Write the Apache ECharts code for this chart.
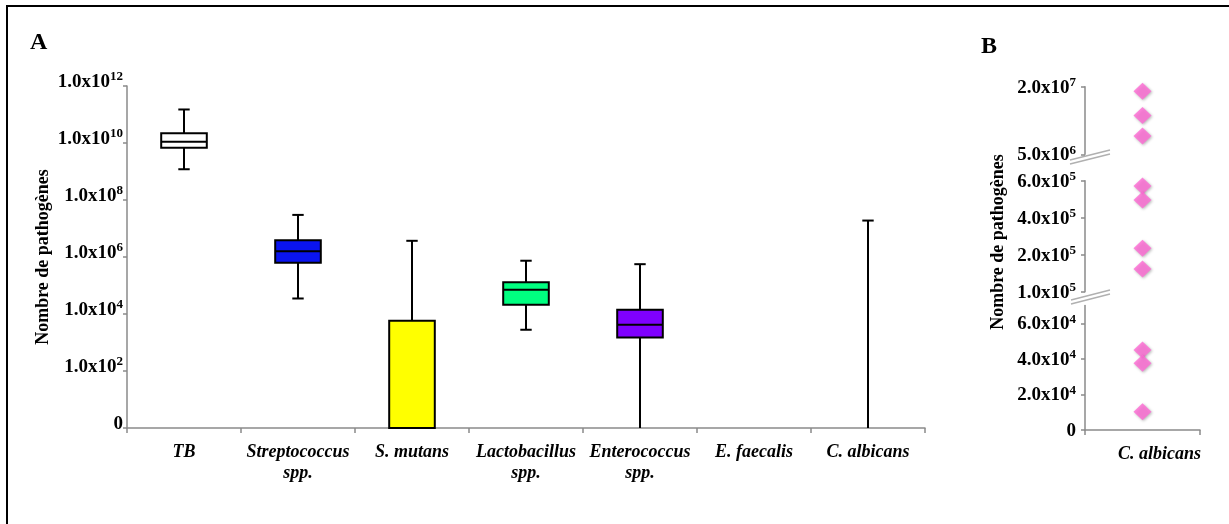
<!DOCTYPE html>
<html><head><meta charset="utf-8">
<script src="https://cdn.jsdelivr.net/npm/echarts@6/dist/echarts.min.js"></script>
<style>html,body{margin:0;padding:0;background:#fff}#c{width:1229px;height:524px}</style>
</head><body><div id="c"></div>
<script>
// ---------- Panel A data (counts) ----------
const categories = ['TB', 'Streptococcus\nspp.', 'S. mutans', 'Lactobacillus\nspp.', 'Enterococcus\nspp.', 'E. faecalis', 'C. albicans'];
const whiskerMin = [1.2e9, 3.5e4, 0, 2.8e3, 0, null, 0];
const boxQ1      = [6.8e9, 6.3e5, 0, 2.1e4, 1.5e3, null, null];
const boxMedian  = [1.1e10, 1.6e6, null, 7.1e4, 4.2e3, null, null];
const boxQ3      = [2.2e10, 3.9e6, 5.8e3, 1.3e5, 1.4e4, null, null];
const whiskerMax = [1.5e11, 3.0e7, 3.7e6, 7.4e5, 5.6e5, null, 1.9e7];
const boxColors  = ['#ffffff', '#0a14f0', '#ffff00', '#00ff80', '#7f00ff', null, null];
const aTickExponents = [0, 2, 4, 6, 8, 10, 12];

// ---------- Panel B data (C. albicans counts, three axis segments) ----------
const bCategory = ['C. albicans'];
const bLowPoints  = [4.5e4, 3.75e4, 1.03e4];
const bMidPoints  = [5.71e5, 4.96e5, 2.35e5, 1.23e5];
const bHighPoints = [1.9e7, 1.36e7, 9.06e6];
const bLowTicks  = [0, 2e4, 4e4, 6e4];
const bLowLabels = ['0', '2.0x10^4', '4.0x10^4', '6.0x10^4'];
const bMidTicks  = [0, 2e5, 4e5, 6e5];
const bMidLabels = ['1.0x10^5', '2.0x10^5', '4.0x10^5', '6.0x10^5'];
const bHighTicks  = [5e6, 2e7];
const bHighLabels = ['5.0x10^6', '2.0x10^7'];

const L = v => (v == null ? null : (v <= 0 ? 0 : Math.log10(v)));
const FONT = 'Liberation Serif';
const GREY = '#8a8a8a';

const rich = {
  a: {fontFamily: FONT, fontSize: 19, fontWeight: 'bold', color: '#000', lineHeight: 21, verticalAlign: 'bottom'},
  s: {fontFamily: FONT, fontSize: 13, fontWeight: 'bold', color: '#000', lineHeight: 13, verticalAlign: 'top'}
};
const sci = str => {
  const p = str.split('^');
  return p.length > 1 ? '{a|' + p[0] + '}{s|' + p[1] + '}' : '{a|' + p[0] + '}';
};
const labFrom = (ticks, labels) => v => {
  const k = ticks.findIndex(t => Math.abs(t - v) < 1e-6 * Math.max(1, Math.abs(t)));
  return k >= 0 ? sci(labels[k]) : '';
};

const axisLineStyle = {show: true, lineStyle: {color: GREY, width: 1.5}};
const tickStyle = {show: true, length: 4, lineStyle: {color: GREY, width: 1.5}};
const catLabel = {fontFamily: FONT, fontSize: 18, fontWeight: 'bold', fontStyle: 'italic', color: '#000', lineHeight: 21, margin: 14, interval: 0};

const gridsB = {left: 1085, right: 29};

const option = {
  animation: false,
  backgroundColor: '#fff',
  title: [
    {text: 'A', left: 30, top: 31, padding: 0, textStyle: {fontFamily: FONT, fontSize: 24, fontWeight: 'bold', color: '#000'}},
    {text: 'B', left: 981, top: 35, padding: 0, textStyle: {fontFamily: FONT, fontSize: 24, fontWeight: 'bold', color: '#000'}}
  ],
  grid: [
    {left: 127, top: 86, right: 304, bottom: 96},
    {left: gridsB.left, right: gridsB.right, top: 305.5, bottom: 94},
    {left: gridsB.left, right: gridsB.right, top: 180.7, height: 111},
    {left: gridsB.left, right: gridsB.right, top: 86.7, height: 67.6}
  ],
  xAxis: [
    {type: 'category', gridIndex: 0, data: categories, axisLine: axisLineStyle,
     axisTick: {show: true, length: 5, lineStyle: {color: GREY, width: 1.5}}, axisLabel: catLabel},
    {type: 'category', gridIndex: 1, data: bCategory, axisLine: axisLineStyle,
     axisTick: {show: true, length: 5, lineStyle: {color: GREY, width: 1.5}},
     axisLabel: Object.assign({}, catLabel, {padding: [0, 0, 0, 34]})},
    {type: 'category', gridIndex: 2, data: bCategory, show: false},
    {type: 'category', gridIndex: 3, data: bCategory, show: false}
  ],
  yAxis: [
    {type: 'value', gridIndex: 0, min: 0, max: 12, interval: 2,
     name: 'Nombre de pathogènes', nameLocation: 'middle', nameRotate: 90, nameGap: 75, nameMoveOverlap: false,
     nameTextStyle: {fontFamily: FONT, fontSize: 18, fontWeight: 'bold', color: '#000'},
     axisLine: axisLineStyle, axisTick: tickStyle, splitLine: {show: false},
     axisLabel: {margin: 4, padding: [0, 0, 10, 0], rich: rich,
       formatter: v => (aTickExponents.indexOf(v) < 0 ? '' : (v === 0 ? '{a|0}' : '{a|1.0x10}{s|' + v + '}'))}},
    {type: 'value', gridIndex: 1, min: 0, max: 70000,
     axisLine: axisLineStyle, axisTick: Object.assign({customValues: bLowTicks}, tickStyle), splitLine: {show: false},
     axisLabel: {customValues: bLowTicks, margin: 9, rich: rich, formatter: labFrom(bLowTicks, bLowLabels)}},
    {type: 'value', gridIndex: 2, min: 0, max: 6e5,
     axisLine: axisLineStyle, axisTick: Object.assign({customValues: bMidTicks}, tickStyle), splitLine: {show: false},
     axisLabel: {customValues: bMidTicks, margin: 9, rich: rich, formatter: labFrom(bMidTicks, bMidLabels)}},
    {type: 'value', gridIndex: 3, min: 5e6, max: 2e7,
     axisLine: axisLineStyle, axisTick: Object.assign({customValues: bHighTicks}, tickStyle), splitLine: {show: false},
     axisLabel: {customValues: bHighTicks, margin: 9, rich: rich, formatter: labFrom(bHighTicks, bHighLabels)}}
  ],
  series: [
    {
      type: 'custom', xAxisIndex: 0, yAxisIndex: 0, clip: false,
      data: categories.map((c, i) => [i, whiskerMax[i] == null ? 0 : L(whiskerMax[i])]),
      renderItem: function (params, api) {
        const i = params.dataIndex;
        const hi = whiskerMax[i];
        if (hi == null) return {type: 'group', children: []};
        const lo = whiskerMin[i], q1 = boxQ1[i], q3 = boxQ3[i], md = boxMedian[i];
        const band = api.size([1, 0])[0];
        const boxW = band * 0.4, capW = band * 0.1;
        const cx = api.coord([i, 0])[0];
        const y = v => api.coord([i, L(v)])[1];
        const st = {stroke: '#000', lineWidth: 2, fill: null};
        const ch = [];
        const topOfBox = q3 != null ? q3 : lo;
        ch.push({type: 'line', shape: {x1: cx, y1: y(hi), x2: cx, y2: y(topOfBox)}, style: st});
        ch.push({type: 'line', shape: {x1: cx - capW / 2, y1: y(hi), x2: cx + capW / 2, y2: y(hi)}, style: st});
        if (q1 != null && lo != null) {
          ch.push({type: 'line', shape: {x1: cx, y1: y(q1), x2: cx, y2: y(lo)}, style: st});
          if (lo > 0) ch.push({type: 'line', shape: {x1: cx - capW / 2, y1: y(lo), x2: cx + capW / 2, y2: y(lo)}, style: st});
        }
        if (q1 != null && q3 != null) {
          ch.push({type: 'rect', shape: {x: cx - boxW / 2, y: y(q3), width: boxW, height: y(q1) - y(q3)},
                   style: {fill: boxColors[i], stroke: '#000', lineWidth: 2}});
        }
        if (md != null) {
          ch.push({type: 'line', shape: {x1: cx - boxW / 2, y1: y(md), x2: cx + boxW / 2, y2: y(md)}, style: st});
        }
        return {type: 'group', children: ch};
      }
    },
    {type: 'scatter', xAxisIndex: 1, yAxisIndex: 1, data: bLowPoints.map(v => [0, v])},
    {type: 'scatter', xAxisIndex: 2, yAxisIndex: 2, data: bMidPoints.map(v => [0, v])},
    {type: 'scatter', xAxisIndex: 3, yAxisIndex: 3, data: bHighPoints.map(v => [0, v])}
  ].map(s => s.type === 'scatter' ? Object.assign(s, {
      symbol: 'diamond', symbolSize: [18, 17],
      itemStyle: {color: '#ff69d4', shadowBlur: 3, shadowColor: 'rgba(0,0,0,0.35)', shadowOffsetX: 1, shadowOffsetY: 1}
    }) : s),
  graphic: [
    {type: 'line', shape: {x1: 7, y1: 6, x2: 7, y2: 524}, style: {stroke: '#000', lineWidth: 2}},
    {type: 'line', shape: {x1: 6, y1: 6, x2: 1229, y2: 6}, style: {stroke: '#000', lineWidth: 2}},
    {type: 'text', x: 998, y: 242, rotation: Math.PI / 2,
     style: {text: 'Nombre de pathogènes', font: 'bold 18px "Liberation Serif"', fill: '#000',
             align: 'center', verticalAlign: 'middle', textAlign: 'center', textVerticalAlign: 'middle'}},
    // axis break marks
    {type: 'polygon', shape: {points: [[1070, 164], [1110, 154], [1110, 150], [1070, 160]]}, style: {fill: '#fff'}},
    {type: 'line', shape: {x1: 1070, y1: 164, x2: 1110, y2: 154}, style: {stroke: '#b0b0b0', lineWidth: 1.3}},
    {type: 'line', shape: {x1: 1070, y1: 160, x2: 1110, y2: 150}, style: {stroke: '#b0b0b0', lineWidth: 1.3}},
    {type: 'polygon', shape: {points: [[1071, 304], [1110, 294], [1110, 290], [1071, 300]]}, style: {fill: '#fff'}},
    {type: 'line', shape: {x1: 1071, y1: 304, x2: 1110, y2: 294}, style: {stroke: '#b0b0b0', lineWidth: 1.3}},
    {type: 'line', shape: {x1: 1071, y1: 300, x2: 1110, y2: 290}, style: {stroke: '#b0b0b0', lineWidth: 1.3}}
  ]
};

const chart = echarts.init(document.getElementById('c'));
chart.setOption(option);
</script>
</body></html>
